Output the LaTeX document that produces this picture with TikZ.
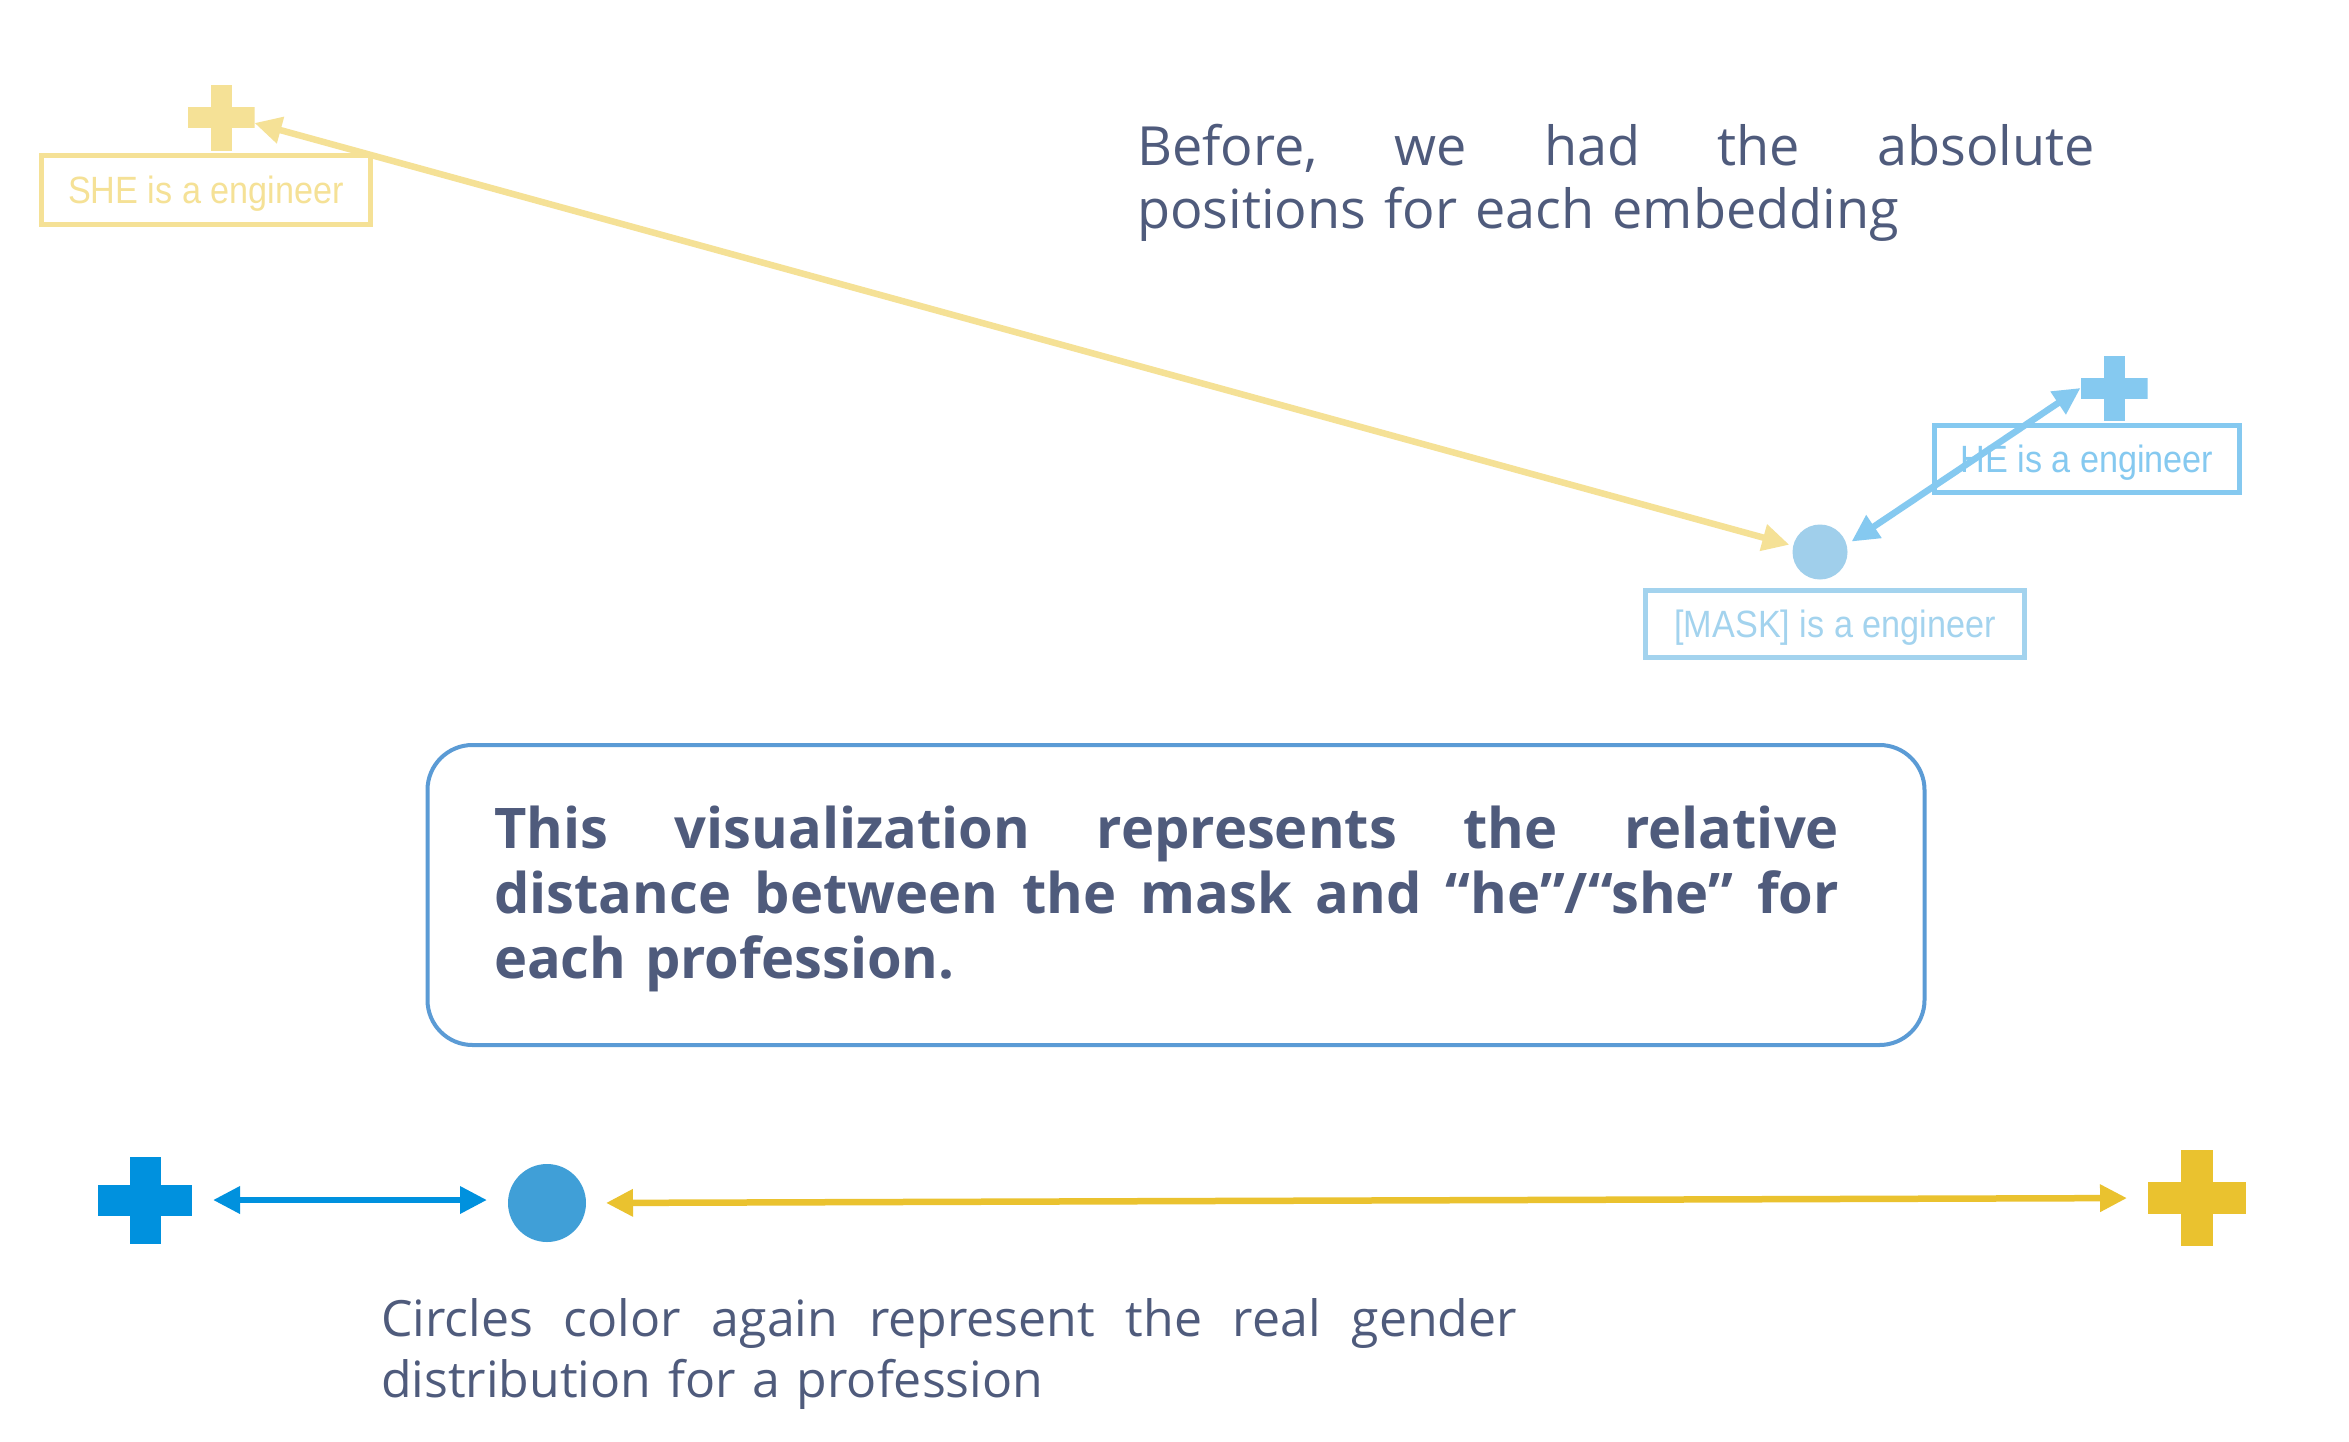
\documentclass[tikz,border=0pt]{standalone}
\usepackage{fontspec}
\setmainfont{Open Sans}
\newfontfamily\lblfont[FakeStretch=0.9]{Liberation Sans}
\usetikzlibrary{arrows.meta}
\definecolor{txt}{HTML}{4F5B7C}
\definecolor{sheY}{HTML}{F5E196}
\definecolor{heB}{HTML}{85C9F0}
\definecolor{maskB}{HTML}{A3D3EE}
\definecolor{maskC}{HTML}{A0CFEB}
\definecolor{bBlue}{HTML}{0091DE}
\definecolor{bCirc}{HTML}{409FD7}
\definecolor{bYel}{HTML}{EAC22F}
\definecolor{boxc}{HTML}{5B9BD5}
\begin{document}
\begin{tikzpicture}[x=1pt,y=-1pt,
  plus/.style n args={4}{shape=rectangle, minimum width=#1, minimum height=#2, inner sep=0pt, outer sep=0pt,
    path picture={
      \fill[#4] ([yshift=-#3/2]path picture bounding box.west) rectangle ([yshift=#3/2]path picture bounding box.east);
      \fill[#4] ([xshift=-#3/2]path picture bounding box.south) rectangle ([xshift=#3/2]path picture bounding box.north);}},
  lbl/.style={draw=#1, text=#1, line width=5pt, font=\lblfont\fontsize{38}{44}\selectfont,
    text height=27pt, text depth=0pt, inner sep=0pt},
  dot/.style={circle, fill=#1, inner sep=0pt, outer sep=0pt},
  dbl/.style={line width=6.5pt, draw=#1, {Triangle[length=27pt,width=26pt]}-{Triangle[length=27pt,width=26pt]}},
  txtnode/.style={anchor=base west, inner sep=0pt, outer sep=0pt, text=txt}
]
\useasboundingbox[fill=white] (0,0) rectangle (2349,1442);

% top part
\node[lbl=sheY, minimum width=329pt, minimum height=69pt] (shelbl) at (206,190) {SHE is a engineer};
\node[lbl=heB, minimum width=305pt, minimum height=67pt] (helbl) at (2087,459) {HE is a engineer};
\node[lbl=maskB, minimum width=379pt, minimum height=67pt] (masklbl) at (1835,624) {[MASK] is a engineer};

\node[plus={67pt}{66pt}{21pt}{sheY}] (sheplus) at (221,118) {};
\node[plus={67pt}{65pt}{21pt}{heB}] (heplus) at (2114,388) {};
\node[dot=maskC, minimum size=55pt] (maskc) at (1820,552) {};

\draw[dbl=sheY, shorten >=4pt] ([yshift=-5pt]sheplus.east) -- (maskc.167);
\draw[dbl=heB, shorten <=6pt] (maskc.15) -- (heplus.west);

\node[txtnode, text width=958pt, font=\fontsize{54}{63}\selectfont] (before) at (1137,166)
  {\makebox[958pt][l]{Before, \hfill we \hfill had \hfill the \hfill absolute}\\positions for each embedding};

% explanation box
\node[draw=boxc, line width=4pt, rounded corners=45pt, minimum width=1497pt, minimum height=300pt, inner sep=0pt] (expl) at (1176,895) {};
\node[txtnode, text width=1345pt, font=\bfseries\fontsize{56}{65}\selectfont] (expltext) at (494,848)
  {\makebox[1345pt][l]{This \hfill visualization \hfill represents \hfill the \hfill relative}\\\makebox[1345pt][l]{distance \hfill between \hfill the \hfill mask \hfill and \hfill “he”/“she” \hfill for}\\each profession.};

% bottom part
\node[plus={94pt}{87pt}{31pt}{bBlue}] (bplus) at (145,1200) {};
\node[dot=bCirc, minimum size=78pt] (bcirc) at (547,1203) {};
\node[plus={98pt}{96pt}{32pt}{bYel}] (yplus) at (2197,1198) {};

\draw[dbl=bBlue, shorten <=21pt, shorten >=21pt] (bplus.east) -- (bplus.east -| bcirc.west);
\draw[dbl=bYel, shorten <=20pt, shorten >=21pt] (bcirc.east) -- (yplus.west);

\node[txtnode, text width=1136pt, font=\fontsize{50}{61}\selectfont] (bottomtext) at (381,1336)
  {\makebox[1136pt][l]{Circles \hfill color \hfill again \hfill represent \hfill the \hfill real \hfill gender}\\distribution for a profession};
\end{tikzpicture}
\end{document}
